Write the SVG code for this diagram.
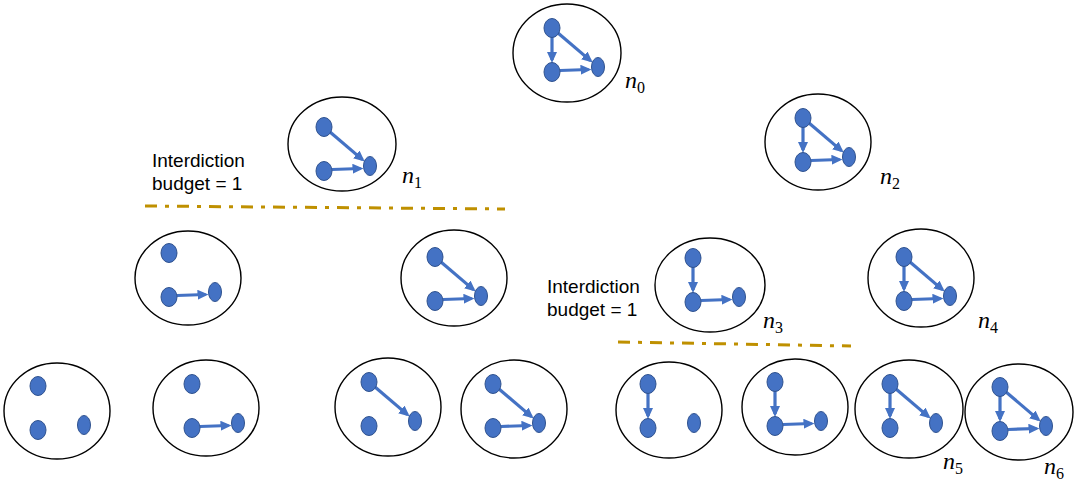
<svg xmlns="http://www.w3.org/2000/svg" width="1080" height="483" viewBox="0 0 1080 483">
<style>
.oval{fill:#fff;stroke:#000;stroke-width:1.4}
.dl{fill:#4472C4;stroke:#2F528F;stroke-width:1}
.e{stroke:#4472C4;stroke-width:3.2;fill:none;marker-end:url(#ah)}
.lbl{font-family:"Liberation Serif",serif;font-style:italic;font-size:24px;fill:#000}
.sub{font-style:normal;font-size:16px}
.txt{font-family:"Liberation Sans",Arial,sans-serif;font-size:19px;fill:#000}
.cut{stroke:#BF9000;stroke-width:3;stroke-dasharray:12 8 4 8;fill:none}
</style>
<defs>
<marker id="ah" markerUnits="userSpaceOnUse" markerWidth="11" markerHeight="10" refX="8" refY="5" orient="auto" viewBox="0 0 11 10">
<path d="M0,0 L11,5 L0,10 z" fill="#4472C4"/>
</marker>
<g id="dTL"><ellipse cx="0" cy="0" rx="8" ry="9.5" class="dl"/></g>
<g id="dBL"><ellipse cx="0" cy="44" rx="8" ry="9.5" class="dl"/></g>
<g id="dR"><ellipse cx="46" cy="39" rx="6.5" ry="9.5" class="dl"/></g>
</defs>

<g id="connectors">
<line class="cut" x1="145" y1="206" x2="505" y2="209"/>
<line class="cut" x1="618" y1="342" x2="851" y2="346"/>
</g>

<g id="n0">
<ellipse class="oval" cx="567" cy="53" rx="54" ry="49"/>
<g transform="translate(552,28)">
<line class="e" x1="0" y1="9" x2="0" y2="32"/>
<line class="e" x1="8" y1="42.5" x2="36.5" y2="41.5"/>
<line class="e" x1="6" y1="5" x2="38.4" y2="32.6"/>
<use href="#dTL"/><use href="#dBL"/><use href="#dR"/>
</g>
<text class="lbl" x="625" y="88">n<tspan class="sub" dy="5">0</tspan></text>
</g>

<g id="n1">
<ellipse class="oval" cx="342" cy="144" rx="54" ry="47"/>
<g transform="translate(324,127)">
<line class="e" x1="8" y1="42.5" x2="36.5" y2="41.5"/>
<line class="e" x1="6" y1="5" x2="38.4" y2="32.6"/>
<use href="#dTL"/><use href="#dBL"/><use href="#dR"/>
</g>
<text class="lbl" x="402" y="183">n<tspan class="sub" dy="5">1</tspan></text>
</g>

<g id="n2">
<ellipse class="oval" cx="818" cy="142" rx="53" ry="48"/>
<g transform="translate(803,118)">
<line class="e" x1="0" y1="9" x2="0" y2="32"/>
<line class="e" x1="8" y1="42.5" x2="36.5" y2="41.5"/>
<line class="e" x1="6" y1="5" x2="38.4" y2="32.6"/>
<use href="#dTL"/><use href="#dBL"/><use href="#dR"/>
</g>
<text class="lbl" x="880" y="184">n<tspan class="sub" dy="5">2</tspan></text>
</g>

<g id="c1">
<ellipse class="oval" cx="188" cy="278" rx="53" ry="47"/>
<g transform="translate(169,253)">
<line class="e" x1="8" y1="42.5" x2="36.5" y2="41.5"/>
<use href="#dTL"/><use href="#dBL"/><use href="#dR"/>
</g>
</g>

<g id="c2">
<ellipse class="oval" cx="454" cy="278" rx="53" ry="48"/>
<g transform="translate(435,257)">
<line class="e" x1="8" y1="42.5" x2="36.5" y2="41.5"/>
<line class="e" x1="6" y1="5" x2="38.4" y2="32.6"/>
<use href="#dTL"/><use href="#dBL"/><use href="#dR"/>
</g>
</g>

<g id="n3">
<ellipse class="oval" cx="710" cy="285" rx="55" ry="47"/>
<g transform="translate(693,258)">
<line class="e" x1="0" y1="9" x2="0" y2="32"/>
<line class="e" x1="8" y1="42.5" x2="36.5" y2="41.5"/>
<use href="#dTL"/><use href="#dBL"/><use href="#dR"/>
</g>
<text class="lbl" x="763" y="328">n<tspan class="sub" dy="5">3</tspan></text>
</g>

<g id="n4">
<ellipse class="oval" cx="921" cy="278" rx="53" ry="49"/>
<g transform="translate(904,257)">
<line class="e" x1="0" y1="9" x2="0" y2="32"/>
<line class="e" x1="8" y1="42.5" x2="36.5" y2="41.5"/>
<line class="e" x1="6" y1="5" x2="38.4" y2="32.6"/>
<use href="#dTL"/><use href="#dBL"/><use href="#dR"/>
</g>
<text class="lbl" x="978" y="328">n<tspan class="sub" dy="5">4</tspan></text>
</g>

<g id="l1">
<ellipse class="oval" cx="57" cy="411" rx="53" ry="48"/>
<g transform="translate(38,386)">
<use href="#dTL"/><use href="#dBL"/><use href="#dR"/>
</g>
</g>

<g id="l2">
<ellipse class="oval" cx="206" cy="408" rx="53" ry="48"/>
<g transform="translate(192,384)">
<line class="e" x1="8" y1="42.5" x2="36.5" y2="41.5"/>
<use href="#dTL"/><use href="#dBL"/><use href="#dR"/>
</g>
</g>

<g id="l3">
<ellipse class="oval" cx="388" cy="407" rx="53" ry="49"/>
<g transform="translate(369,382)">
<line class="e" x1="6" y1="5" x2="38.4" y2="32.6"/>
<use href="#dTL"/><use href="#dBL"/><use href="#dR"/>
</g>
</g>

<g id="l4">
<ellipse class="oval" cx="514" cy="409" rx="53" ry="49"/>
<g transform="translate(493,384)">
<line class="e" x1="8" y1="42.5" x2="36.5" y2="41.5"/>
<line class="e" x1="6" y1="5" x2="38.4" y2="32.6"/>
<use href="#dTL"/><use href="#dBL"/><use href="#dR"/>
</g>
</g>

<g id="l5">
<ellipse class="oval" cx="669" cy="410" rx="53" ry="48"/>
<g transform="translate(648,384)">
<line class="e" x1="0" y1="9" x2="0" y2="32"/>
<use href="#dTL"/><use href="#dBL"/><use href="#dR"/>
</g>
</g>

<g id="l6">
<ellipse class="oval" cx="795" cy="407" rx="53" ry="48"/>
<g transform="translate(775,382)">
<line class="e" x1="0" y1="9" x2="0" y2="32"/>
<line class="e" x1="8" y1="42.5" x2="36.5" y2="41.5"/>
<use href="#dTL"/><use href="#dBL"/><use href="#dR"/>
</g>
</g>

<g id="n5">
<ellipse class="oval" cx="909" cy="409" rx="54" ry="49"/>
<g transform="translate(890,384)">
<line class="e" x1="0" y1="9" x2="0" y2="32"/>
<line class="e" x1="6" y1="5" x2="38.4" y2="32.6"/>
<use href="#dTL"/><use href="#dBL"/><use href="#dR"/>
</g>
<text class="lbl" x="943" y="469">n<tspan class="sub" dy="5">5</tspan></text>
</g>

<g id="n6">
<ellipse class="oval" cx="1019" cy="412" rx="54" ry="48"/>
<g transform="translate(1000,387)">
<line class="e" x1="0" y1="9" x2="0" y2="32"/>
<line class="e" x1="8" y1="42.5" x2="36.5" y2="41.5"/>
<line class="e" x1="6" y1="5" x2="38.4" y2="32.6"/>
<use href="#dTL"/><use href="#dBL"/><use href="#dR"/>
</g>
<text class="lbl" x="1044" y="474">n<tspan class="sub" dy="5">6</tspan></text>
</g>

<g id="budget1">
<text class="txt" x="152" y="167">Interdiction</text>
<text class="txt" x="152" y="190">budget = 1</text>
</g>
<g id="budget2">
<text class="txt" x="547" y="293">Interdiction</text>
<text class="txt" x="547" y="316">budget = 1</text>
</g>
</svg>
